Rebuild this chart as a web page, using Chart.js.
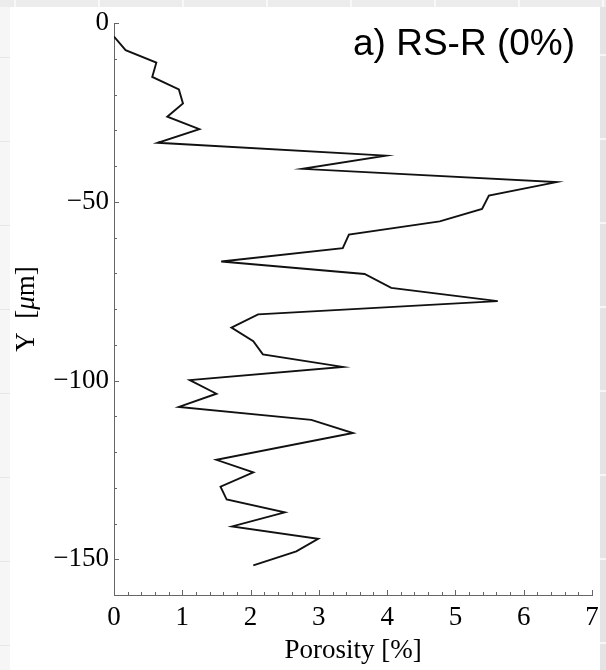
<!DOCTYPE html>
<html>
<head>
<meta charset="utf-8">
<script src="https://cdn.jsdelivr.net/npm/chart.js@4/dist/chart.umd.min.js"></script>
<style>
    html, body { margin: 0; padding: 0; }
    body {
        width: 606px; height: 670px; position: relative; overflow: hidden;
        background: #ebebeb;
    }
    .strip-top {
        position: absolute; left: 0; top: 0; width: 606px; height: 7px;
        background: repeating-linear-gradient(90deg, #ececec 0 14px, #f8f8f8 14px 16px, #ececec 16px 84px);
    }
    .strip-left {
        position: absolute; left: 0; top: 7px; width: 10px; height: 663px;
        background: repeating-linear-gradient(180deg, #f6f6f6 0 50px, #e6e6e6 50px 51px, #f6f6f6 51px 84px);
    }
    .strip-right {
        position: absolute; left: 600px; top: 7px; width: 6px; height: 663px;
        background: repeating-linear-gradient(180deg, #e4e4e4 0 47px, #f7f7f7 47px 49px, #e4e4e4 49px 84px);
    }
    .panel {
        position: absolute; left: 10px; top: 7px; width: 590px; height: 663px;
        background: #ffffff;
    }
    #chartWrap { position: absolute; left: 0; top: 0; width: 606px; height: 670px; }
</style>
</head>
<body>
<div class="strip-top"></div>
<div class="strip-left"></div>
<div class="strip-right"></div>
<div class="panel"></div>
<div id="chartWrap"><canvas id="porosityChart" width="606" height="670"></canvas></div>

<script>
// values (Y in micrometres, porosity in %)
const depthUm = [
    -3.8, -7.6, -11.1, -15.1, -18.6, -22.5, -26.2, -29.7, -33.5, -37.1,
    -40.8, -44.5, -48.3, -52.0, -55.5, -59.2, -63.0, -66.7, -70.2, -74.1,
    -77.8, -81.5, -85.2, -89.0, -92.7, -96.2, -99.9, -103.7, -107.4, -111.0,
    -114.7, -122.2, -125.7, -129.7, -133.3, -136.9, -140.8, -144.3, -147.8, -151.7
];
const porosityPct = [
    0.00, 0.17, 0.62, 0.56, 0.95, 1.01, 0.78, 1.25, 0.64, 3.98,
    2.76, 6.48, 5.49, 5.39, 4.77, 3.44, 3.35, 1.57, 3.67, 4.06,
    5.62, 2.11, 1.72, 2.04, 2.18, 3.35, 1.11, 1.50, 0.95, 2.89,
    3.50, 1.50, 2.04, 1.56, 1.65, 2.50, 1.73, 2.99, 2.67, 2.04
];
const xMajorTicks = [0, 1, 2, 3, 4, 5, 6, 7];
const yMajorTicks = [0, -50, -100, -150];
const panelLabel = 'a) RS-R (0%)';

const serif = '"Liberation Serif", "Times New Roman", serif';

function isMajor(list, v) {
    return list.some(m => Math.abs(m - v) < 1e-6);
}

// Mathematica style ticks pointing into the plot, plus the text bits
const inwardTicks = {
    id: 'inwardTicks',
    afterDraw(chart) {
        const ctx = chart.ctx;
        const xs = chart.scales.x, ys = chart.scales.y;
        ctx.save();
        ctx.strokeStyle = '#666666';
        ctx.lineWidth = 1;
        ctx.beginPath();
        xs.ticks.forEach(t => {
            const px = Math.round(xs.getPixelForValue(t.value)) + 0.5;
            const len = isMajor(xMajorTicks, t.value) ? 5 : 3;
            ctx.moveTo(px, ys.bottom);
            ctx.lineTo(px, ys.bottom - len);
        });
        ys.ticks.forEach(t => {
            const py = Math.round(ys.getPixelForValue(t.value)) + 0.5;
            const len = isMajor(yMajorTicks, t.value) ? 5 : 3;
            ctx.moveTo(xs.left, py);
            ctx.lineTo(xs.left + len, py);
        });
        ctx.stroke();

        // panel label, upper right
        ctx.fillStyle = '#000000';
        ctx.font = '37px "Liberation Sans", Arial, sans-serif';
        ctx.textAlign = 'right';
        ctx.textBaseline = 'alphabetic';
        ctx.fillText(panelLabel, 575, 55);

        // y axis title with italic mu, centred on the plot height
        const parts = [
            { t: 'Y  [', f: '27px ' + serif },
            { t: '\u03bc', f: 'italic 27px ' + serif },
            { t: 'm]', f: '27px ' + serif }
        ];
        let total = 0;
        parts.forEach(p => { ctx.font = p.f; p.w = ctx.measureText(p.t).width; total += p.w; });
        const cy = (ys.top + ys.bottom) / 2;
        ctx.translate(27, cy);
        ctx.rotate(-Math.PI / 2);
        ctx.textAlign = 'left';
        ctx.textBaseline = 'middle';
        let x0 = -total / 2;
        parts.forEach(p => { ctx.font = p.f; ctx.fillText(p.t, x0, 0); x0 += p.w; });
        ctx.restore();
    }
};

const ctx = document.getElementById('porosityChart').getContext('2d');
new Chart(ctx, {
    type: 'line',
    data: {
        datasets: [{
            data: depthUm.map((d, i) => ({ x: porosityPct[i], y: d })),
            borderColor: '#111111',
            borderWidth: 1.9,
            pointRadius: 0,
            tension: 0,
            fill: false
        }]
    },
    options: {
        responsive: false,
        animation: false,
        layout: { padding: { top: 23, right: 14, left: 0, bottom: 0 } },
        plugins: {
            legend: { display: false },
            tooltip: { enabled: false }
        },
        scales: {
            x: {
                type: 'linear',
                min: 0,
                max: 7,
                afterFit: s => { s.height = 75; },
                grid: { display: false, drawTicks: false },
                border: { display: true, color: '#666666', width: 1 },
                ticks: {
                    stepSize: 0.2,
                    autoSkip: false,
                    maxRotation: 0,
                    padding: 7,
                    color: '#000000',
                    font: { family: serif, size: 27 },
                    callback: v => isMajor(xMajorTicks, v) ? String(Math.round(v)) : ''
                },
                title: {
                    display: true,
                    text: 'Porosity [%]',
                    color: '#000000',
                    font: { family: serif, size: 27 },
                    padding: { top: 0, bottom: 3 }
                }
            },
            y: {
                type: 'linear',
                min: -160,
                max: 0,
                afterFit: s => { s.width = 114; },
                grid: { display: false, drawTicks: false },
                border: { display: true, color: '#666666', width: 1 },
                ticks: {
                    stepSize: 10,
                    autoSkip: false,
                    padding: 5,
                    color: '#000000',
                    font: { family: serif, size: 27 },
                    callback: v => isMajor(yMajorTicks, v)
                        ? (v < 0 ? '\u2212' + Math.abs(v) : String(v)) : ''
                }
            }
        }
    },
    plugins: [inwardTicks]
});
</script>
</body>
</html>
